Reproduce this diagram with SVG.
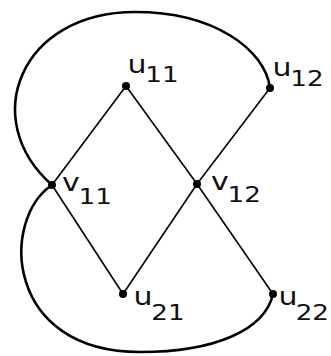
<svg xmlns="http://www.w3.org/2000/svg" width="331" height="356" viewBox="0 0 331 356">
<style>
.e{stroke:#000;stroke-width:1.6;fill:none}
.c{stroke:#000;stroke-width:2.6;fill:none}
.d{fill:#000}
.t{font-family:"DejaVu Sans",Verdana,sans-serif;fill:#111}
.m{font-size:24px}
.s{font-size:21px}
</style>
<rect width="331" height="356" fill="#fff"/>
<g id="edges">
<line class="e" x1="126" y1="86" x2="52" y2="185"/>
<line class="e" x1="126" y1="86" x2="197" y2="184"/>
<line class="e" x1="270" y1="88" x2="197" y2="184"/>
<line class="e" x1="52" y1="185" x2="123" y2="294"/>
<line class="e" x1="197" y1="184" x2="123" y2="294"/>
<line class="e" x1="197" y1="184" x2="273" y2="294"/>
<path class="c" d="M52,185 C-22,120 20,12 135,12 C215,12 265,50 270,88"/>
<path class="c" d="M52,185 C0,220 5,352 140,352 C215,352 265,330 273,294"/>
</g>
<g id="u11"><circle class="d" cx="126" cy="86" r="4"/><text class="t" transform="translate(127.5,0) scale(1.25,1)" x="0" y="73"><tspan class="m">u</tspan><tspan class="s" dx="-1" dy="9">11</tspan></text></g>
<g id="u12"><circle class="d" cx="270" cy="88" r="4"/><text class="t" transform="translate(272.5,0) scale(1.25,1)" x="0" y="76"><tspan class="m">u</tspan><tspan class="s" dx="-1" dy="10">12</tspan></text></g>
<g id="v11"><circle class="d" cx="52" cy="185" r="4"/><text class="t" transform="translate(62,0) scale(1.25,1)" x="0" y="191"><tspan class="m">v</tspan><tspan class="s" dx="-1" dy="13">11</tspan></text></g>
<g id="v12"><circle class="d" cx="197" cy="184" r="4"/><text class="t" transform="translate(211,0) scale(1.25,1)" x="0" y="190"><tspan class="m">v</tspan><tspan class="s" dx="-1" dy="12">12</tspan></text></g>
<g id="u21"><circle class="d" cx="123" cy="294" r="4"/><text class="t" transform="translate(133.5,0) scale(1.25,1)" x="0" y="305"><tspan class="m">u</tspan><tspan class="s" dx="-1" dy="15">21</tspan></text></g>
<g id="u22"><circle class="d" cx="273" cy="294" r="4"/><text class="t" transform="translate(278.5,0) scale(1.25,1)" x="0" y="305"><tspan class="m">u</tspan><tspan class="s" dx="-1.5" dy="15">22</tspan></text></g>
</svg>
